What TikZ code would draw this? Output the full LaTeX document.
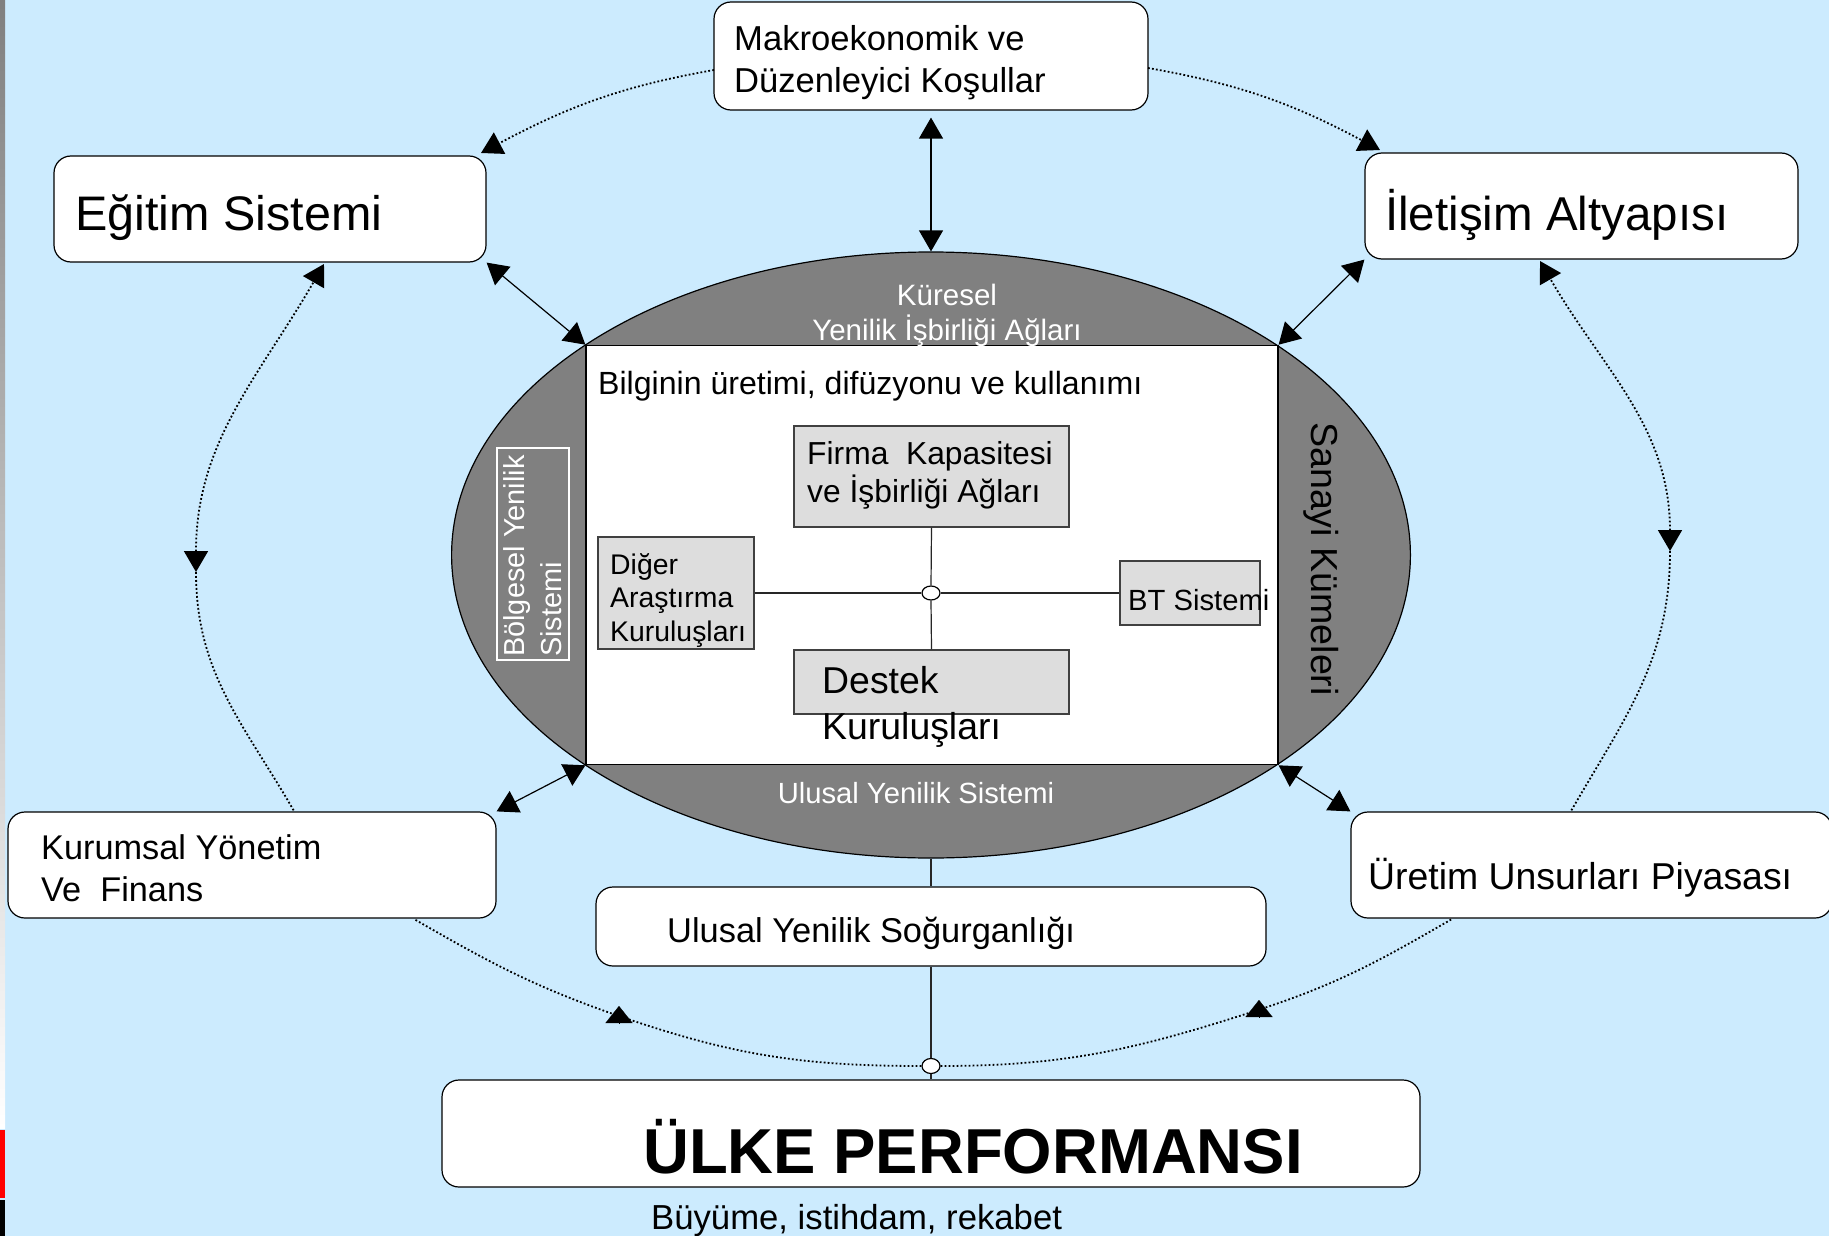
\documentclass[tikz,border=0pt]{standalone}
\usepackage{fontspec}
\setmainfont{Liberation Sans}
\usetikzlibrary{arrows.meta,shapes.geometric}
\definecolor{bgblue}{RGB}{204,235,254}
\definecolor{ellgray}{RGB}{128,128,128}
\definecolor{boxgray}{RGB}{221,221,221}
\newcommand\myfs[1]{\fontsize{#1pt}{#1pt}\selectfont}
\tikzset{
  rbox/.style={draw=black,line width=1.2pt,fill=white,rounded corners=17pt,inner sep=0pt},
  gbox/.style={draw=black!75,line width=1.2pt,fill=boxgray,inner sep=0pt},
  txt/.style={inner sep=0pt,anchor=base west,text=black},
  wtxt/.style={inner sep=0pt,anchor=base,text=white},
  plainline/.style={line width=1.2pt,draw=black!85},
  solidarrow/.style={line width=1.2pt,{Triangle[length=21pt,width=24pt]}-{Triangle[length=21pt,width=24pt]}},
  dotline/.style={line width=1.8pt,dash pattern=on 1.8pt off 2.2pt},
  dotarrow/.style={dotline,-{Triangle[length=21pt,width=24pt]}},
  dotboth/.style={dotline,{Triangle[length=21pt,width=24pt]}-{Triangle[length=21pt,width=24pt]}},
  uptip/.style={line width=0.1pt,-{Triangle[length=17pt,width=27pt]}},
}
\begin{document}
\begin{tikzpicture}[x=1pt,y=1pt]
\useasboundingbox (0,0) rectangle (1829,-1236);
\clip (0,0) rectangle (1829,-1236);
\fill[bgblue] (0,0) rectangle (1829,-1236);
\shade[top color=black!50,bottom color=white] (0,0) rectangle (5,-1128);
\fill[red] (0,-1130) rectangle (5,-1198);
\fill[black] (0,-1200) rectangle (5,-1236);

% central ellipse and inner rectangle
\node[ellipse,draw=black,line width=1.2pt,fill=ellgray,minimum width=958.8pt,minimum height=606pt,inner sep=0pt] (ell) at (931,-555) {};
\node[draw=black,line width=1.2pt,fill=white,minimum width=692pt,minimum height=419.4pt,inner sep=0pt] (inner) at (932,-555) {};

\node[wtxt,font=\myfs{29.5}] (kur1) at (947,-305.6) {Küresel};
\node[wtxt,font=\myfs{29.5}] (kur2) at (947,-340.6) {Yenilik İşbirliği Ağları};
\node[wtxt,font=\myfs{29.2}] (uys) at (916,-803.5) {Ulusal Yenilik Sistemi};

\node[draw=white,line width=1.2pt,minimum width=72pt,minimum height=212pt,inner sep=0pt] (bolg) at (533,-554) {};
\node[txt,text=white,rotate=90,font=\myfs{28.9}] (bolt1) at (524.3,-657) {Bölgesel Yenilik};
\node[txt,text=white,rotate=90,font=\myfs{28.9}] (bolt2) at (561.3,-657) {Sistemi};

\node[inner sep=0pt,anchor=base,rotate=-90,font=\myfs{37.6}] (san) at (1311,-559) {Sanayi Kümeleri};

% inner gray boxes
\node[gbox,minimum width=275pt,minimum height=101pt] (firma) at (931.5,-476.5) {};
\node[gbox,minimum width=156pt,minimum height=112pt] (diger) at (676,-593) {};
\node[gbox,minimum width=140pt,minimum height=64pt] (bt) at (1190,-593) {};
\node[gbox,minimum width=275pt,minimum height=64pt] (destek) at (931.5,-682) {};
\node[ellipse,draw=black,fill=white,line width=1.2pt,minimum width=18pt,minimum height=14pt,inner sep=0pt] (jc) at (931,-593) {};
\draw[plainline] (firma.south) -- (jc.north);
\draw[plainline] (jc.south) -- (destek.north);
\draw[plainline] (diger.east) -- (jc.west);
\draw[plainline] (jc.east) -- (bt.west);

\node[txt,font=\myfs{32.1}] (bilg) at (598,-394.5) {Bilginin üretimi, difüzyonu ve kullanımı};
\node[txt,font=\myfs{31.8}] (firt1) at (807,-464) {Firma\ \ Kapasitesi};
\node[txt,font=\myfs{31.8}] (firt2) at (807,-502.4) {ve İşbirliği Ağları};
\node[txt,font=\myfs{28.4}] (dig1) at (610,-574.8) {Diğer};
\node[txt,font=\myfs{28.4}] (dig2) at (610,-607.4) {Araştırma};
\node[txt,font=\myfs{28.4}] (dig3) at (610,-641.2) {Kuruluşları};
\node[txt,font=\myfs{29.2}] (btt) at (1128,-610.5) {BT Sistemi};
\node[txt,font=\myfs{37.4}] (des1) at (822,-693.4) {Destek};
\node[txt,font=\myfs{37.4}] (des2) at (822,-739.4) {Kuruluşları};

% outer boxes
\node[rbox,minimum width=434pt,minimum height=108pt] (makro) at (931,-56) {};
\node[rbox,minimum width=432pt,minimum height=106pt] (egitim) at (270,-209) {};
\node[rbox,minimum width=433pt,minimum height=106pt] (ilet) at (1581.5,-206) {};
\node[rbox,minimum width=488pt,minimum height=106pt] (kurum) at (252,-865) {};
\node[rbox,minimum width=481pt,minimum height=106pt] (uretim) at (1591.5,-865) {};
\node[rbox,minimum width=670pt,minimum height=79pt] (sogur) at (931,-926.5) {};
\node[rbox,minimum width=978pt,minimum height=107pt] (ulke) at (931,-1133.5) {};
\node[ellipse,draw=black,fill=white,line width=1.2pt,minimum width=18pt,minimum height=15pt,inner sep=0pt] (bc) at (931,-1066) {};

\node[txt,font=\myfs{34.6}] (mak1) at (734,-51) {Makroekonomik ve};
\node[txt,font=\myfs{34.6}] (mak2) at (734,-93) {Düzenleyici Koşullar};
\node[txt,font=\myfs{48.5}] (egt) at (75,-230.4) {Eğitim Sistemi};
\node[txt,font=\myfs{47.5}] (ilt) at (1385,-230) {İletişim Altyapısı};
\node[txt,font=\myfs{34.3}] (kur1t) at (41,-859.3) {Kurumsal Yönetim};
\node[txt,font=\myfs{34.3}] (kur2t) at (41,-901.3) {Ve\ \ Finans};
\node[txt,font=\myfs{37.4}] (uret) at (1368,-889.4) {Üretim Unsurları Piyasası};
\node[txt,font=\myfs{34.4}] (sogt) at (667,-942.3) {Ulusal Yenilik Soğurganlığı};
\node[txt,font=\myfs{63.5}\bfseries] (ulket) at (643,-1173.7) {ÜLKE PERFORMANSI};
\node[txt,font=\myfs{34.7}] (buy) at (651,-1229.4) {Büyüme, istihdam, rekabet};

% solid connectors
\draw[solidarrow,shorten <=7pt] (makro.south) -- (ell.north);
\draw[solidarrow] (egitim.south east) -- (inner.north west);
\draw[solidarrow] (ilet.south west) -- (inner.north east);
\draw[solidarrow] (kurum.north east) -- (inner.south west);
\draw[solidarrow] (uretim.north west) -- (inner.south east);
\draw[plainline] (ell.south) -- (sogur.north);
\draw[plainline] (sogur.south) -- (bc.north);
\draw[plainline] (bc.south) -- (ulke.north);

% dotted outer ring
\coordinate (mkL) at (714,-70);
\coordinate (egTR) at (481,-153);
\coordinate (mkR) at (1148,-68);
\coordinate (ilTL) at (1380,-150);
\coordinate (egB) at (324,-264);
\coordinate (lmid) at (196,-572);
\coordinate (kuT) at (294,-811);
\coordinate (ilB) at (1540,-261);
\coordinate (rmid) at (1670,-551);
\coordinate (urT) at (1571,-811);
\coordinate (kuB) at (414,-919);
\coordinate (lbot) at (619,-1016);
\coordinate (urB) at (1452,-919);
\coordinate (rbot) at (1258,-1010);
\coordinate (lbotA) at (619,-1023);
\coordinate (lbotB) at (619,-1006);
\coordinate (rbotA) at (1259,-1017);
\coordinate (rbotB) at (1259,-1000);

\draw[dotarrow] (mkL) to[out=190,in=28] (egTR);
\draw[dotarrow] (mkR) to[out=-10,in=152] (ilTL);
\draw[dotboth] (lmid) to[out=90,in=240] (egB);
\draw[dotline] (lmid) to[out=270,in=120] (kuT);
\draw[dotboth] (rmid) to[out=90,in=300] (ilB);
\draw[dotline] (rmid) to[out=270,in=60] (urT);
\draw[dotline] (bc.west) to[out=180,in=-19] (lbot) to[out=161,in=-30] (kuB);
\draw[dotline] (bc.east) to[out=0,in=198] (rbot) to[out=18,in=210] (urB);
\draw[uptip] (lbotA) -- (lbotB);
\draw[uptip] (rbotA) -- (rbotB);
\end{tikzpicture}
\end{document}
